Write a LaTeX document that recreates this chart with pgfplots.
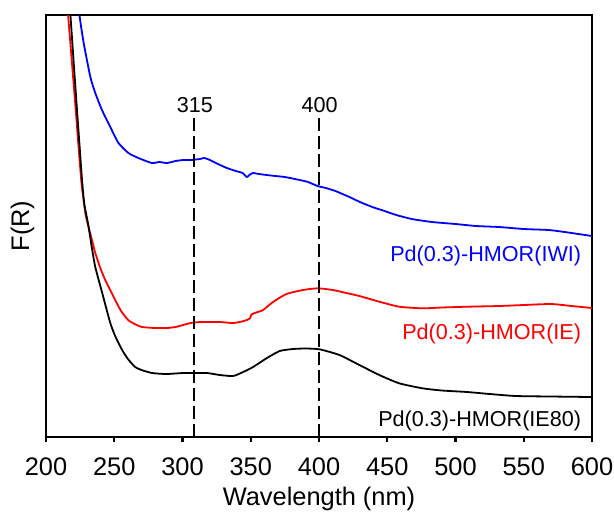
\documentclass[border=0pt]{standalone}
\usepackage{pgfplots}
\pgfplotsset{compat=1.18}
\usepackage{fontspec}
\setmainfont{Liberation Sans}
\usetikzlibrary{calc}
\definecolor{cblue}{RGB}{0,0,255}
\definecolor{cred}{RGB}{255,0,0}
\begin{document}
\begin{tikzpicture}
\begin{axis}[
  scale only axis,
  width=273pt, height=211pt,
  xmin=200, xmax=600, ymin=0, ymax=422,
  xtick={200,250,...,600},
  ytick=\empty,
  xtick pos=bottom,
  tick align=outside,
  major tick length=2.5pt,
  axis line style={line width=1.1pt},
  every tick/.style={line width=1.1pt, black},
  /pgf/number format/assume math mode=true,
  /pgf/number format/set thousands separator={},
  tick label style={font=\fontsize{12.7pt}{14pt}\selectfont},
  xticklabel style={yshift=-4.5pt},
  xlabel={Wavelength (nm)},
  xlabel style={font=\fontsize{12.7pt}{14pt}\selectfont, yshift=1.5pt},
  clip=true,
]
% IWI (blue)
\addplot[cblue, line width=0.9pt, smooth, tension=0.35] coordinates {
(222.5,450) (224.5,422) (227.6,394) (232.5,360) (236.1,344) (241,327)
(247.1,310) (253.1,294) (260.4,284) (267.7,279) (277.5,274) (283,275)
(288.7,274) (295,276) (300.4,277) (306,277) (312.8,278) (316,279) (320.1,277)
(326,273) (332.5,269) (339,266) (344,264) (347.1,260) (349,262) (351.5,264)
(356,263) (361.7,262) (368,261) (375,260) (385.8,257) (392,255) (398.9,251)
(405,249) (412,246) (422.3,240) (430,235) (439.1,230) (448,226) (456.6,222)
(468,218) (482.8,215) (500,213) (515,211) (531.8,210) (550,208) (568.2,207)
(580,205) (590,203) (600,201)
};
% IE (red)
\addplot[cred, line width=0.9pt, smooth, tension=0.35] coordinates {
(214.9,450) (216.2,422) (221.2,337) (225.8,257) (228.8,224) (231.5,208)
(233.7,197) (236.1,184) (239.8,169) (243.4,157) (250.7,137) (255,126)
(260.2,117) (265,113) (270.4,110) (279.9,109) (288.7,109) (295,110)
(300.4,112) (306,114) (312.8,115) (320,115) (327.4,115) (337.1,114)
(345,116) (349.3,118.5) (350.5,122.5) (354,124.5) (359,127) (366.3,135)
(376.1,143) (388.2,147) (399.1,148.7) (410.1,147) (421,143.7) (429.6,141)
(444.2,135.3) (458.8,130.3) (475.8,128.7) (490,129.5) (508.6,130.3)
(531.8,131) (550,132) (570,133) (585,131) (600,129)
};
% IE80 (black)
\addplot[black, line width=0.9pt, smooth, tension=0.35] coordinates {
(216.7,450) (217.9,422) (222.2,337) (226.4,257) (228.2,232) (231,212)
(233.5,190) (236.1,170) (241.2,144) (247.1,114) (251,100) (255.8,87)
(260,78) (265.3,70) (270,67) (277.7,64) (288,63) (300.4,64) (308,64)
(317.9,64) (327.4,62) (337.1,61) (344.4,65) (351.7,70) (361.5,78.7)
(371.2,86) (380.9,88) (390,88.5) (400.4,87.7) (415,82) (429.6,72)
(444.2,62) (458.8,53.7) (475.8,48.7) (490,46.5) (508.6,45) (525,43)
(544.2,41) (570,40.5) (600,40)
};
% reference dashed lines
\addplot[black, line width=1.3pt, dash pattern=on 6.5pt off 2.5pt] coordinates {(308.4,0) (308.4,320)};
\addplot[black, line width=1.3pt, dash pattern=on 6.5pt off 2.5pt] coordinates {(399.9,0) (399.9,320)};
\node[anchor=base, font=\fontsize{10.8pt}{12pt}\selectfont] at (axis cs:309,325) {315};
\node[anchor=base, font=\fontsize{10.8pt}{12pt}\selectfont] at (axis cs:400.4,325) {400};
\node[anchor=base east, inner sep=0pt, text=cblue, font=\fontsize{10.8pt}{12pt}\selectfont] at (axis cs:592.3,176) {Pd(0.3)-HMOR(IWI)};
\node[anchor=base east, inner sep=0pt, text=cred, font=\fontsize{10.8pt}{12pt}\selectfont] at (axis cs:592.3,98) {Pd(0.3)-HMOR(IE)};
\node[anchor=base east, inner sep=0pt, text=black, font=\fontsize{10.8pt}{12pt}\selectfont] at (axis cs:592.3,11) {Pd(0.3)-HMOR(IE80)};
\end{axis}
\node[rotate=90, font=\fontsize{12.7pt}{14pt}\selectfont] at ($(current axis.west)+(-11.75pt,0)$) {F(R)};
\pgfresetboundingbox
\path ($(current axis.south west)+(-23pt,-37pt)$) rectangle ($(current axis.north east)+(11pt,7.5pt)$);
\end{tikzpicture}
\end{document}
